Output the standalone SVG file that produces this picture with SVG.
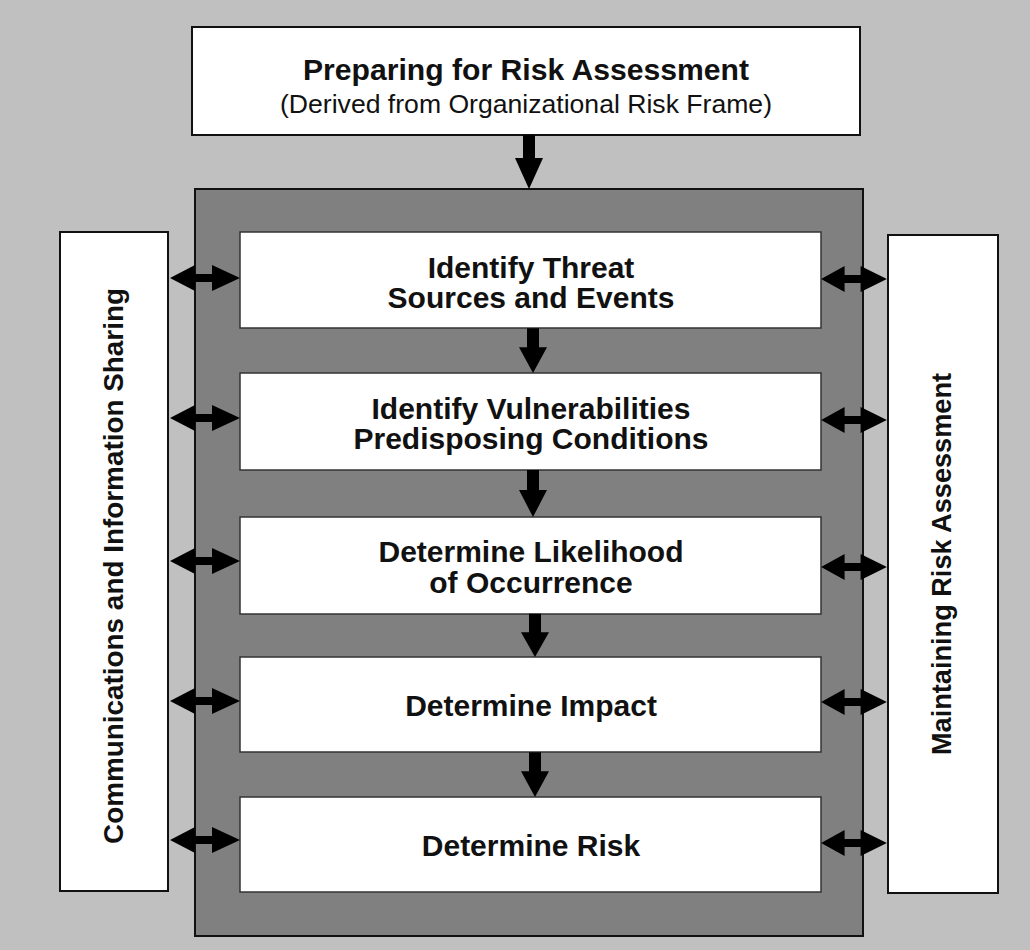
<svg xmlns="http://www.w3.org/2000/svg" width="1030" height="950" viewBox="0 0 1030 950">
  <style>
    .bg { fill: #c0c0c0; }
    .frame { fill: #808080; stroke: #111; stroke-width: 2; }
    .box { fill: #ffffff; stroke: #111; stroke-width: 2; }
    .step { fill: #ffffff; stroke: #333; stroke-width: 1.5; }
    .bold { font-family: "Liberation Sans", Arial, sans-serif; font-weight: bold; fill: #111; text-anchor: middle; }
    .reg { font-family: "Liberation Sans", Arial, sans-serif; fill: #111; text-anchor: middle; }
    .arrow { fill: #000; }
  </style>
  <defs>
    <!-- horizontal double-headed arrow, 70 long, centred on origin -->
    <polygon id="dbl" points="-35,0 -10,-13 -10,-4 7,-4 7,-13 35,0 7,13 7,4 -10,4 -10,13"/>
    <!-- downward arrow, tip at origin -->
    <polygon id="down" points="-6,-54 6,-54 6,-31 14,-31 0,0 -14,-31 -6,-31"/>
  </defs>

  <rect class="bg" x="0" y="0" width="1030" height="950"/>

  <g id="prepare">
    <rect class="box" x="192" y="27" width="668" height="108"/>
    <text class="bold" x="526" y="80" font-size="30" textLength="446" lengthAdjust="spacingAndGlyphs">Preparing for Risk Assessment</text>
    <text class="reg" x="526" y="113" font-size="26" textLength="492" lengthAdjust="spacingAndGlyphs">(Derived from Organizational Risk Frame)</text>
  </g>

  <g id="assessment-frame">
    <rect class="frame" x="195" y="189" width="668" height="747"/>
  </g>

  <g id="communications">
    <rect class="box" x="60" y="232" width="108" height="659"/>
    <text class="bold" font-size="28" transform="translate(123,566) rotate(-90)" x="0" y="0" textLength="556" lengthAdjust="spacingAndGlyphs">Communications and Information Sharing</text>
  </g>

  <g id="maintaining">
    <rect class="box" x="888" y="235" width="110" height="658"/>
    <text class="bold" font-size="28" transform="translate(951,564) rotate(-90)" x="0" y="0" textLength="382" lengthAdjust="spacingAndGlyphs">Maintaining Risk Assessment</text>
  </g>

  <g id="step-threats">
    <rect class="step" x="240" y="232" width="581" height="96"/>
    <text class="bold" x="531" y="278" font-size="30">Identify Threat</text>
    <text class="bold" x="531" y="308" font-size="30">Sources and Events</text>
  </g>

  <g id="step-vulnerabilities">
    <rect class="step" x="240" y="373" width="581" height="97"/>
    <text class="bold" x="531" y="419" font-size="30">Identify Vulnerabilities</text>
    <text class="bold" x="531" y="449" font-size="30">Predisposing Conditions</text>
  </g>

  <g id="step-likelihood">
    <rect class="step" x="240" y="517" width="581" height="97"/>
    <text class="bold" x="531" y="562" font-size="30">Determine Likelihood</text>
    <text class="bold" x="531" y="593" font-size="30">of Occurrence</text>
  </g>

  <g id="step-impact">
    <rect class="step" x="240" y="657" width="581" height="95"/>
    <text class="bold" x="531" y="716" font-size="30">Determine Impact</text>
  </g>

  <g id="step-risk">
    <rect class="step" x="240" y="797" width="581" height="95"/>
    <text class="bold" x="531" y="856" font-size="30">Determine Risk</text>
  </g>

  <g id="connectors" class="arrow">
    <!-- flow down through the steps -->
    <use href="#down" transform="translate(529,189)"/>
    <use href="#down" transform="translate(533,373) scale(1,0.83)"/>
    <use href="#down" transform="translate(533,517) scale(1,0.87)"/>
    <use href="#down" transform="translate(535,657) scale(1,0.8)"/>
    <use href="#down" transform="translate(535,797) scale(1,0.83)"/>
    <!-- left exchanges -->
    <use href="#dbl" transform="translate(205,278)"/>
    <use href="#dbl" transform="translate(205,418)"/>
    <use href="#dbl" transform="translate(205,561)"/>
    <use href="#dbl" transform="translate(205,701)"/>
    <use href="#dbl" transform="translate(205,840)"/>
    <!-- right exchanges -->
    <use href="#dbl" transform="translate(854,279) scale(0.94,1)"/>
    <use href="#dbl" transform="translate(854,420) scale(0.94,1)"/>
    <use href="#dbl" transform="translate(854,567) scale(0.94,1)"/>
    <use href="#dbl" transform="translate(854,702) scale(0.94,1)"/>
    <use href="#dbl" transform="translate(854,843) scale(0.94,1)"/>
  </g>
</svg>
